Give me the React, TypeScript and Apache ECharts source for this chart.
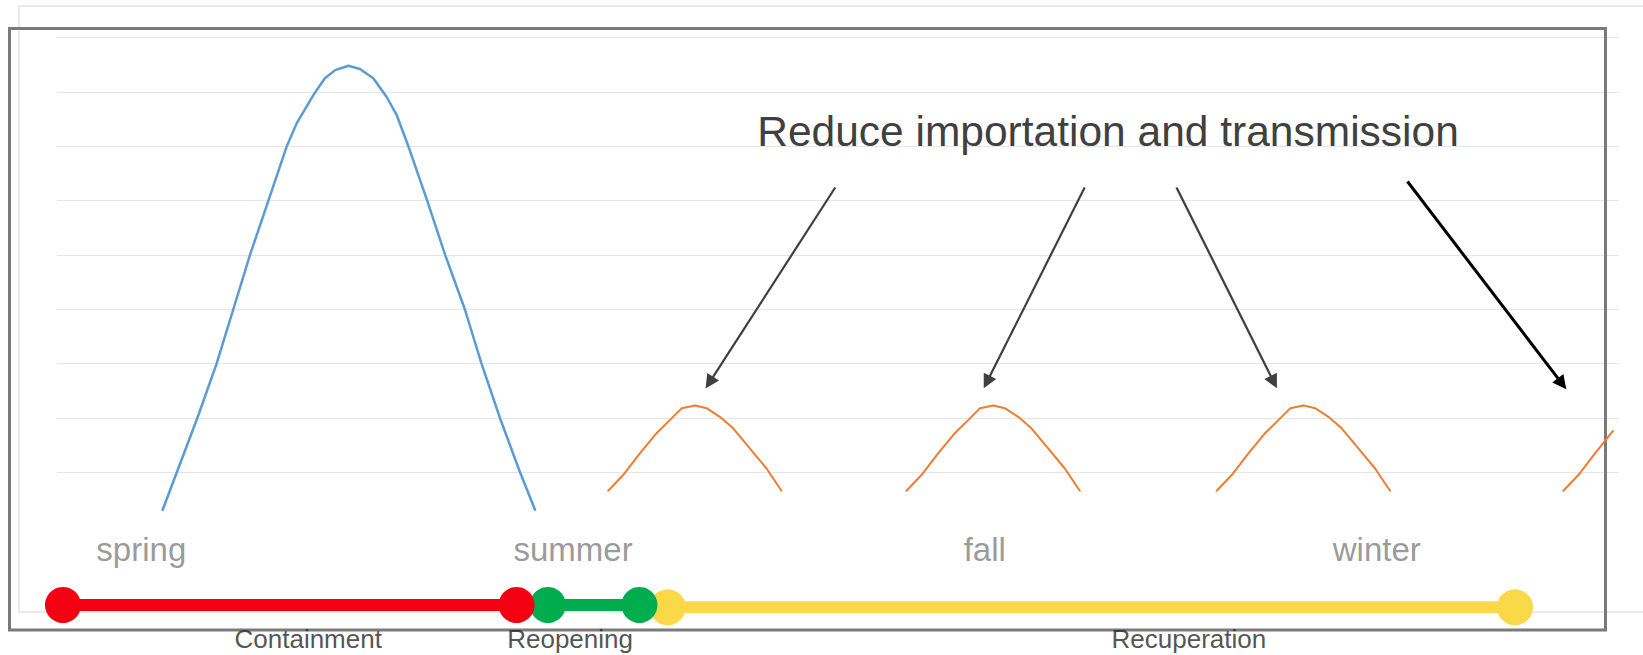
import React, { useEffect, useRef } from "react";
import * as echarts from "echarts";

// ---------- data (x = day of the year, y = relative incidence) ----------
const seasons = ["spring", "summer", "fall", "winter"];
const seasonDays = [19.7, 120.6, 216.8, 308.4];

const firstWave: [number, number][] = [
  [24.7, 0.31], [28.0, 1.0], [32.8, 2.0], [37.3, 3.0], [41.2, 4.0], [45.1, 5.0],
  [49.4, 6.0], [53.7, 7.0], [56.0, 7.42], [59.9, 7.94], [62.6, 8.25], [65.0, 8.4],
  [68.1, 8.48], [70.8, 8.42], [73.9, 8.25], [77.0, 7.91], [79.4, 7.57], [82.1, 7.0],
  [86.5, 6.0], [90.7, 5.0], [95.3, 4.0], [99.2, 3.0], [103.5, 2.0], [108.2, 1.0],
  [111.7, 0.31],
];

const smallWave1: [number, number][] = [
  [128.8, 0.66], [132.3, 0.95], [136.2, 1.35], [140.1, 1.72], [143.2, 1.96],
  [146.0, 2.18], [149.1, 2.23], [151.8, 2.18], [154.9, 2.02], [158.0, 1.81],
  [161.9, 1.44], [165.8, 1.07], [169.3, 0.66],
];
const smallWave2: [number, number][] = [
  [198.5, 0.66], [202.0, 0.95], [205.9, 1.35], [209.8, 1.72], [212.9, 1.96],
  [215.7, 2.18], [218.8, 2.23], [221.5, 2.18], [224.6, 2.02], [227.7, 1.81],
  [231.6, 1.44], [235.5, 1.07], [239.0, 0.66],
];
const smallWave3: [number, number][] = [
  [271.0, 0.66], [274.5, 0.95], [278.4, 1.35], [282.3, 1.72], [285.4, 1.96],
  [288.2, 2.18], [291.3, 2.23], [294.0, 2.18], [297.1, 2.02], [300.2, 1.81],
  [304.1, 1.44], [308.0, 1.07], [311.5, 0.66],
];
const smallWave4: [number, number][] = [
  [352.0, 0.66], [355.5, 0.95], [359.4, 1.35], [363.6, 1.76],
];

const phases = ["Containment", "Reopening", "Recuperation"];
const phaseStart = [1.4, 114.7, 142.7];
const phaseEnd = [107.4, 136.1, 340.7];
const phaseLabelDays = [58.7, 119.9, 264.5];

const annotationText = "Reduce importation and transmission";
const arrowFrom: [number, number][] = [
  [181.85, 6.24], [240.14, 6.24], [261.6, 6.24], [315.57, 6.35],
];
const arrowTo: [number, number][] = [
  [152.44, 2.65], [217.29, 2.66], [284.33, 2.66], [351.69, 2.63],
];

// ---------- styles / layout ----------
const FONT = '"Liberation Sans", Arial, sans-serif';
const phaseColors = ["#F30013", "#00AD4E", "#F9D948"];
const phaseZ = [6, 5, 4];
const LANE_SEASON = 1.96;
const LANE_TIMELINE = [7.5, 7.5, 7.73];
const LANE_PHASE_LABEL = 10.93;

const waveSeries = (data: [number, number][], color: string, width: number) => ({
  type: "line",
  xAxisIndex: 0,
  yAxisIndex: 0,
  data,
  symbol: "none",
  showSymbol: false,
  smooth: false,
  clip: false,
  lineStyle: { color, width, join: "round", cap: "round" },
  z: 3,
});

function buildOption() {
  const series: any[] = [
    waveSeries(firstWave, "#5B9BD5", 2.5),
    waveSeries(smallWave1, "#ED7D31", 2),
    waveSeries(smallWave2, "#ED7D31", 2),
    waveSeries(smallWave3, "#ED7D31", 2),
    waveSeries(smallWave4, "#ED7D31", 2),
    {
      type: "lines",
      coordinateSystem: "cartesian2d",
      xAxisIndex: 0,
      yAxisIndex: 0,
      symbol: ["none", "triangle"],
      symbolSize: [10, 14],
      lineStyle: { color: "#3f3f3f", width: 2.2, opacity: 1, curveness: 0 },
      data: arrowFrom.slice(0, 3).map((f, i) => ({ coords: [f, arrowTo[i]] })),
      z: 4,
    },
    {
      type: "lines",
      coordinateSystem: "cartesian2d",
      xAxisIndex: 0,
      yAxisIndex: 0,
      symbol: ["none", "triangle"],
      symbolSize: [10, 14],
      lineStyle: { color: "#000000", width: 3, opacity: 1, curveness: 0 },
      data: [{ coords: [arrowFrom[3], arrowTo[3]] }],
      z: 4,
    },
  ];

  phases.forEach((name, i) => {
    series.push({
      type: "line",
      name,
      xAxisIndex: 1,
      yAxisIndex: 1,
      data: [
        [phaseStart[i], LANE_TIMELINE[i]],
        [phaseEnd[i], LANE_TIMELINE[i]],
      ],
      symbol: "circle",
      symbolSize: 36,
      showSymbol: true,
      clip: false,
      lineStyle: { color: phaseColors[i], width: 12 },
      itemStyle: { color: phaseColors[i], borderWidth: 0 },
      z: phaseZ[i],
    });
  });

  series.push({
    type: "scatter",
    xAxisIndex: 1,
    yAxisIndex: 1,
    symbolSize: 1,
    itemStyle: { color: "rgba(0,0,0,0)" },
    data: seasons.map((s, i) => ({ name: s, value: [seasonDays[i], LANE_SEASON] })),
    label: {
      show: true,
      position: "inside",
      formatter: "{b}",
      color: "#7f7f7f",
      fontSize: 33,
      fontFamily: FONT,
    },
    z: 8,
  });

  series.push({
    type: "scatter",
    xAxisIndex: 1,
    yAxisIndex: 1,
    symbolSize: 1,
    itemStyle: { color: "rgba(0,0,0,0)" },
    data: phases.map((p, i) => ({ name: p, value: [phaseLabelDays[i], LANE_PHASE_LABEL] })),
    label: {
      show: true,
      position: "inside",
      formatter: "{b}",
      color: "#262626",
      fontSize: 26,
      fontFamily: FONT,
    },
    z: 8,
  });

  return {
    animation: false,
    backgroundColor: "#ffffff",
    textStyle: { fontFamily: FONT },
    grid: [
      { left: 57, right: 24, top: 37.5, bottom: 128.35 },
      { left: 57, right: 24, top: 530, bottom: 5 },
    ],
    xAxis: [
      { type: "value", gridIndex: 0, min: 0, max: 365, show: false },
      { type: "value", gridIndex: 1, min: 0, max: 365, show: false },
    ],
    yAxis: [
      {
        type: "value",
        gridIndex: 0,
        min: 0,
        max: 9,
        interval: 1,
        axisLine: { show: false },
        axisTick: { show: false },
        axisLabel: { show: false },
        splitLine: {
          show: true,
          showMinLine: false,
          lineStyle: { color: "#e6e6e6", width: 1.2 },
        },
      },
      {
        type: "value",
        gridIndex: 1,
        min: 0,
        max: 12,
        inverse: true,
        show: false,
        splitLine: { show: false },
      },
    ],
    graphic: [
      {
        type: "polyline",
        z: 0,
        silent: true,
        shape: { points: [[1643, 6], [19, 6], [19, 612], [1643, 612]] },
        style: { stroke: "#e4e4e4", lineWidth: 1.5, fill: "none" },
      },
      {
        type: "rect",
        z: 1,
        silent: true,
        shape: { x: 9.5, y: 28.5, width: 1596, height: 601.5 },
        style: { fill: "none", stroke: "#7a7a7a", lineWidth: 3 },
      },
      {
        type: "text",
        z: 10,
        silent: true,
        style: {
          text: annotationText,
          x: 1108,
          y: 131,
          align: "center",
          verticalAlign: "middle",
          fill: "#404040",
          fontSize: 42.5,
          fontFamily: FONT,
        },
      },
    ],
    series,
  };
}

export default function App() {
  const ref = useRef<HTMLDivElement>(null);
  useEffect(() => {
    document.body.style.margin = "0";
    const chart = echarts.init(ref.current!, undefined, { renderer: "svg" });
    chart.setOption(buildOption() as any);
    return () => chart.dispose();
  }, []);
  return <div ref={ref} style={{ width: 1643, height: 655 }} />;
}
